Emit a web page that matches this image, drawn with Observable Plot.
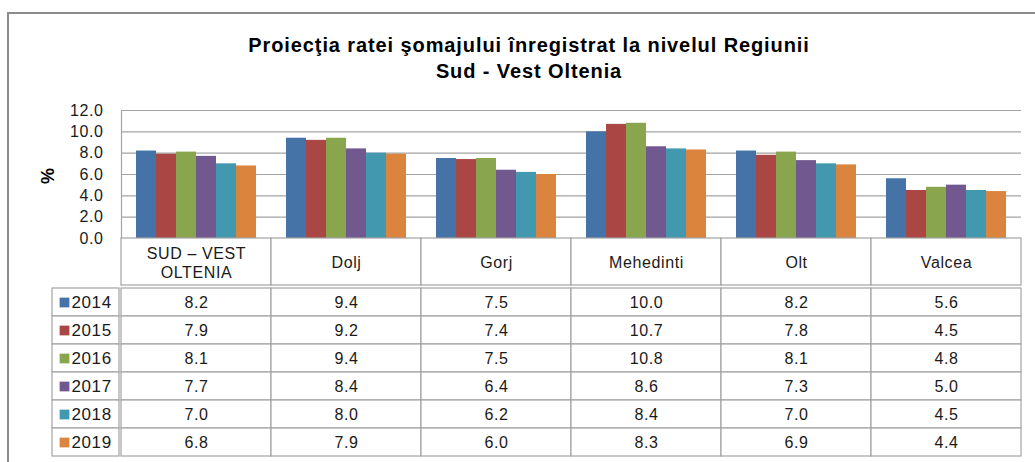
<!DOCTYPE html>
<html><head><meta charset="utf-8">
<script src="https://cdn.jsdelivr.net/npm/d3@7"></script>
<script src="https://cdn.jsdelivr.net/npm/@observablehq/plot@0.6"></script>
<style>
html,body{margin:0;padding:0;background:#fff;width:1035px;height:462px;overflow:hidden;position:relative;}
#frame{position:absolute;left:7px;top:12px;width:1100px;height:520px;border:2px solid #8c8c8c;box-sizing:border-box;}
#title{position:absolute;left:0;width:1058px;top:32px;text-align:center;font:bold 20px "Liberation Sans",Arial,sans-serif;line-height:26px;color:#000;letter-spacing:0.9px;}
#ylabel{position:absolute;left:38px;top:166px;width:20px;height:20px;font:bold 18px "Liberation Sans",Arial,sans-serif;transform:rotate(-90deg);text-align:center;line-height:20px;}
.p{position:absolute;}
</style></head><body>
<div id="frame"></div>
<div id="title">Proiecţia ratei şomajului înregistrat la nivelul Regiunii<br>Sud - Vest Oltenia</div>
<div id="ylabel">%</div>
<div id="pa" class="p" style="left:0;top:0"></div>
<div id="ph" class="p" style="left:0;top:237px"></div>
<div id="pb" class="p" style="left:0;top:285px"></div>
<div id="pc" class="p" style="left:51px;top:285px"></div>
<script>
const categories = ["SUD – VEST OLTENIA", "Dolj", "Gorj", "Mehedinti", "Olt", "Valcea"];
const years = ["2014", "2015", "2016", "2017", "2018", "2019"];
const v2014 = [8.2, 9.4, 7.5, 10.0, 8.2, 5.6];
const v2015 = [7.9, 9.2, 7.4, 10.7, 7.8, 4.5];
const v2016 = [8.1, 9.4, 7.5, 10.8, 8.1, 4.8];
const v2017 = [7.7, 8.4, 6.4, 8.6, 7.3, 5.0];
const v2018 = [7.0, 8.0, 6.2, 8.4, 7.0, 4.5];
const v2019 = [6.8, 7.9, 6.0, 8.3, 6.9, 4.4];
const colors = ["#4572A7", "#AA4643", "#89A54E", "#71588F", "#4198AF", "#DB843D"];
const yTicks = [0, 2, 4, 6, 8, 10, 12];

const series = [v2014, v2015, v2016, v2017, v2018, v2019];
const rows = years.flatMap((yr, i) => categories.map((c, j) => ({year: yr, category: c, value: series[i][j]})));

const FONT = '"Liberation Sans", Arial, sans-serif';
const baseStyle = {fontFamily: FONT, fontSize: "16px", color: "#1a1a1a", background: "transparent", letterSpacing: "0.6px"};
const lineColor = "#a3a3a3";
const color = {domain: years, range: colors};

const pa = Plot.plot({
  width: 1035, height: 252,
  marginTop: 110, marginBottom: 14, marginLeft: 119, marginRight: 12,
  style: baseStyle,
  fx: {domain: categories, padding: 0, axis: null, label: null},
  x: {domain: years, paddingInner: 0, paddingOuter: 0.75, axis: null},
  y: {domain: [0, 12], ticks: yTicks, tickFormat: d => d.toFixed(1), tickSize: 0, tickPadding: 18, label: null},
  color,
  marks: [
    Plot.ruleY(yTicks, {stroke: lineColor, strokeWidth: 1.2}),
    Plot.frame({anchor: "left", facetAnchor: "left", stroke: lineColor, strokeWidth: 1.2}),
    Plot.barY(rows, {fx: "category", x: "year", y: "value", fill: "year"})
  ]
});
document.getElementById("pa").append(pa);

const ph = Plot.plot({
  width: 1035, height: 49,
  marginTop: 1, marginBottom: 1, marginLeft: 119, marginRight: 12,
  style: baseStyle,
  x: {domain: categories, padding: 0, axis: null},
  marks: [
    Plot.cell(categories, {x: d => d, fill: "white", stroke: lineColor, strokeWidth: 1.2}),
    Plot.text(categories, {x: d => d, text: d => d, lineWidth: 8, lineHeight: 1.2, fill: "#1a1a1a", fontSize: 16})
  ]
});
document.getElementById("ph").append(ph);

const pb = Plot.plot({
  width: 1035, height: 174,
  marginTop: 1, marginBottom: 1, marginLeft: 119, marginRight: 12,
  style: baseStyle,
  x: {domain: categories, padding: 0, axis: null},
  y: {domain: years, padding: 0, axis: null},
  marks: [
    Plot.cell(rows, {x: "category", y: "year", fill: "white", stroke: lineColor, strokeWidth: 1.2}),
    Plot.text(rows, {x: "category", y: "year", text: d => d.value.toFixed(1), fill: "#1a1a1a", fontSize: 16})
  ]
});
document.getElementById("pb").append(pb);

const pc = Plot.plot({
  width: 69, height: 174,
  marginTop: 1, marginBottom: 1, marginLeft: 1, marginRight: 1,
  style: baseStyle,
  y: {domain: years, padding: 0, axis: null},
  color,
  marks: [
    Plot.cell(years, {y: d => d, fill: "white", stroke: lineColor, strokeWidth: 1.2}),
    Plot.dot(years, {y: d => d, fill: d => d, symbol: "square", r: 5.5, frameAnchor: "left", dx: 12}),
    Plot.text(years, {y: d => d, text: d => d, frameAnchor: "left", textAnchor: "start", dx: 19, fill: "#1a1a1a", fontSize: 17})
  ]
});
document.getElementById("pc").append(pc);
</script>
</body></html>
